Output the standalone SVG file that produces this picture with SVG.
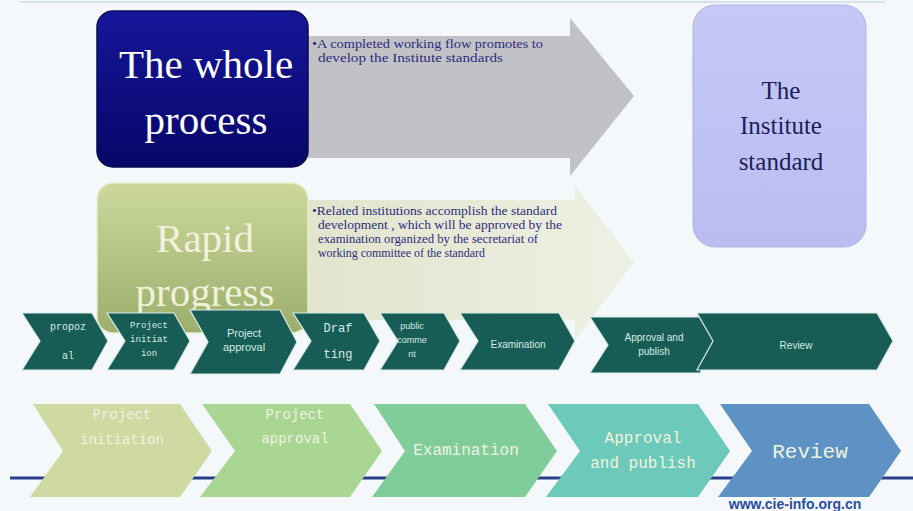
<svg xmlns="http://www.w3.org/2000/svg" width="913" height="511" viewBox="0 0 913 511">
<style>
.big{font-family:"Liberation Serif",serif;text-anchor:middle}
.note{font-family:"Liberation Serif",serif;font-size:12.5px;fill:#2c2c7c}
.c1{fill:#185c56;stroke:#d8ece8;stroke-width:1.2}
.m1{font-family:"Liberation Mono",monospace;fill:#d4ece4;text-anchor:middle}
.s1{font-family:"Liberation Sans",sans-serif;fill:#d4ece4;text-anchor:middle}
.m2{font-family:"Liberation Mono",monospace;fill:#eef4e0;text-anchor:middle}
</style>
<defs>
<linearGradient id="gBlue" x1="0" y1="0" x2="0" y2="1"><stop offset="0" stop-color="#16169a"/><stop offset="1" stop-color="#060668"/></linearGradient>
<linearGradient id="gGreen" x1="0" y1="0" x2="0" y2="1"><stop offset="0" stop-color="#ccd89c"/><stop offset="1" stop-color="#9cae6c"/></linearGradient>
<linearGradient id="gLav" x1="0" y1="0" x2="0" y2="1"><stop offset="0" stop-color="#c6c9f6"/><stop offset="1" stop-color="#b9bdf0"/></linearGradient>
<linearGradient id="gBeige" x1="0" y1="0" x2="1" y2="0"><stop offset="0" stop-color="#e2e4cc"/><stop offset="1" stop-color="#eef0e4"/></linearGradient>
</defs>
<rect width="913" height="511" fill="#f5f8fb"/>
<line x1="20" y1="2" x2="885" y2="2" stroke="#d6e2ea" stroke-width="2"/>

<g id="arrow-whole">
<polygon points="308,36 570,36 570,18 634,96 570,176 570,158 308,158" fill="#c2c2c6"/>
<text class="note" x="312" y="48" textLength="231" lengthAdjust="spacingAndGlyphs">•A completed working  flow promotes to</text>
<text class="note" x="318" y="62" textLength="185" lengthAdjust="spacingAndGlyphs">develop  the  Institute standards</text>
</g>

<g id="arrow-rapid">
<polygon points="300,200 575,200 575,186 634,262 575,340 575,320 300,320" fill="url(#gBeige)"/>
<text class="note" x="312" y="215" textLength="245" lengthAdjust="spacingAndGlyphs">•Related institutions accomplish the standard</text>
<text class="note" x="318" y="229" textLength="244" lengthAdjust="spacingAndGlyphs">development , which will  be approved by the</text>
<text class="note" x="318" y="243" textLength="220" lengthAdjust="spacingAndGlyphs">examination  organized by the secretariat of</text>
<text class="note" x="318" y="257" textLength="167" lengthAdjust="spacingAndGlyphs">working  committee  of the standard</text>
</g>

<g id="box-whole">
<rect x="97" y="11" width="211" height="156" rx="16" fill="url(#gBlue)" stroke="#0a0a50" stroke-width="1.5"/>
<text class="big" x="206" y="78" font-size="41" fill="#ffffff">The whole</text>
<text class="big" x="206" y="134" font-size="41" fill="#ffffff">process</text>
</g>

<g id="box-rapid">
<rect x="97" y="183" width="211" height="150" rx="16" fill="url(#gGreen)" stroke="#e8eed0" stroke-width="1.5"/>
<text class="big" x="205" y="252" font-size="41" fill="#f2f2dc">Rapid</text>
<text class="big" x="205" y="306" font-size="41" fill="#f2f2dc">progress</text>
</g>

<g id="box-institute">
<rect x="693" y="5" width="173" height="242" rx="22" fill="url(#gLav)" stroke="#aeb2e4" stroke-width="1"/>
<text class="big" x="781" y="99" font-size="25" fill="#1c1c5c">The</text>
<text class="big" x="781" y="134" font-size="25" fill="#1c1c5c">Institute</text>
<text class="big" x="781" y="170" font-size="25" fill="#1c1c5c">standard</text>
</g>

<g id="connectors">
<line x1="10" y1="478" x2="913" y2="478" stroke="#2a3f8a" stroke-width="3"/>
</g>

<g id="s-proposal">
<polygon class="c1" points="22,313 92,313 108,341 92,370 22,370 40,341"/>
<text class="m1" x="68" y="330" font-size="10">propoz</text>
<text class="m1" x="68" y="359" font-size="10">al</text>
</g>
<g id="s-initiation">
<polygon class="c1" points="107,313 174,313 190,341 174,370 107,370 125,341"/>
<text class="m1" x="149" y="328" font-size="9">Project</text>
<text class="m1" x="149" y="342" font-size="9">initiat</text>
<text class="m1" x="149" y="356" font-size="9">ion</text>
</g>
<g id="s-approval">
<polygon class="c1" points="190,310 280,310 297,342 280,374 190,374 208,342"/>
<text class="s1" x="244" y="337" font-size="11">Project</text>
<text class="s1" x="244" y="351" font-size="11">approval</text>
</g>
<g id="s-drafting">
<polygon class="c1" points="293,313 364,313 380,341 364,370 293,370 311,341"/>
<text class="m1" x="338" y="332" font-size="12">Draf</text>
<text class="m1" x="338" y="358" font-size="12">ting</text>
</g>
<g id="s-public">
<polygon class="c1" points="380,313 444,313 460,341 444,370 380,370 398,341"/>
<text class="s1" x="412" y="329" font-size="9">public</text>
<text class="s1" x="412" y="343" font-size="9">comme</text>
<text class="s1" x="412" y="357" font-size="9">nt</text>
</g>
<g id="s-examination">
<polygon class="c1" points="460,313 559,313 575,341 559,370 460,370 478,341"/>
<text class="s1" x="518" y="348" font-size="10">Examination</text>
</g>
<g id="s-publish">
<polygon class="c1" points="590,317 700,317 717,345 700,373 590,373 608,345"/>
<text class="s1" x="654" y="341" font-size="10">Approval and</text>
<text class="s1" x="654" y="355" font-size="10">publish</text>
</g>
<g id="s-review">
<polygon class="c1" points="697,313 877,313 893,341 877,370 697,370 713,341"/>
<text class="s1" x="796" y="349" font-size="10">Review</text>
</g>

<g id="b-initiation">
<polygon points="33,404 180,404 212,451 180,497 30,497 63,451" fill="#cfd9a2"/>
<text class="m2" x="122" y="419" font-size="14">Project</text>
<text class="m2" x="122" y="444" font-size="14">initiation</text>
</g>
<g id="b-approval">
<polygon points="202,404 350,404 382,451 350,497 200,497 235,451" fill="#a9d692"/>
<text class="m2" x="295" y="419" font-size="14">Project</text>
<text class="m2" x="295" y="443" font-size="14">approval</text>
</g>
<g id="b-examination">
<polygon points="374,404 525,404 557,451 525,497 372,497 405,451" fill="#80cd9a"/>
<text class="m2" x="466" y="455" font-size="16">Examination</text>
</g>
<g id="b-publish">
<polygon points="548,404 698,404 730,451 698,497 546,497 580,451" fill="#6dc9b9"/>
<text class="m2" x="643" y="443" font-size="16">Approval</text>
<text class="m2" x="643" y="468" font-size="16">and publish</text>
</g>
<g id="b-review">
<polygon points="720,404 869,404 901,451 869,497 718,497 752,451" fill="#5f92c4"/>
<text class="m2" x="810" y="458" font-size="21">Review</text>
</g>

<text x="795" y="509" font-family="Liberation Sans,sans-serif" font-weight="bold" font-size="14" fill="#2a4ca0" text-anchor="middle">www.cie-info.org.cn</text>
</svg>
